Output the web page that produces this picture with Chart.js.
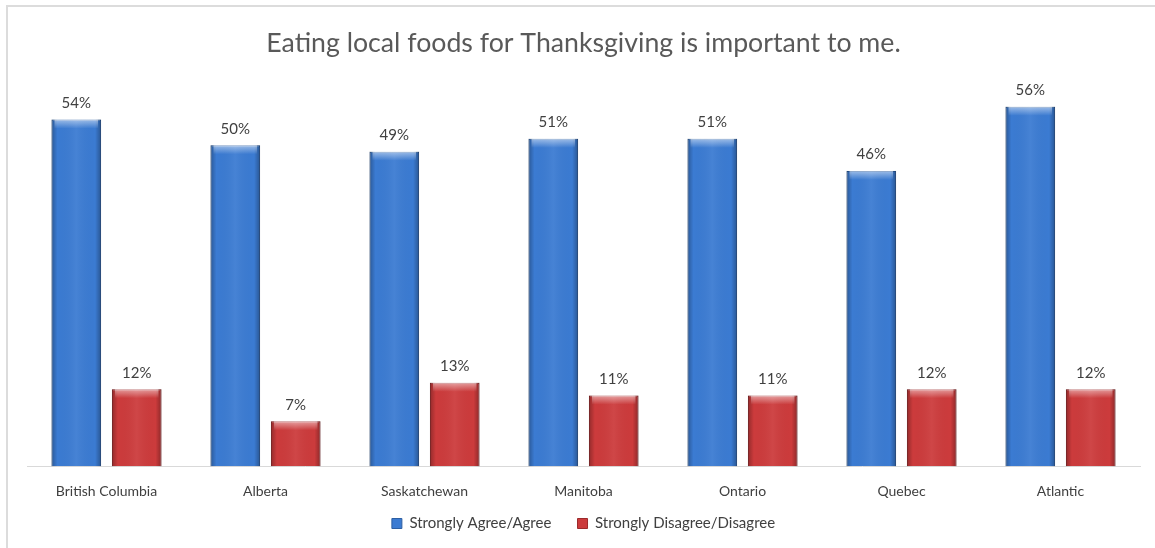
<!DOCTYPE html>
<html>
<head>
<meta charset="utf-8">
<script src="https://cdn.jsdelivr.net/npm/chart.js@4"></script>
<style>
  html, body { margin: 0; padding: 0; background: #ffffff; }
  #wrap { position: relative; width: 1155px; height: 548px; }
  #frame { position: absolute; left: 6px; top: 5px; width: 1200px; height: 600px;
           border-left: 2px solid #dcdcdc; border-top: 2px solid #dcdcdc; }
  canvas { position: absolute; left: 0; top: 0; }
</style>
</head>
<body>
<div id="wrap">
  <div id="frame"></div>
  <canvas id="chart" width="1155" height="548"></canvas>
</div>
<script>
// data
const regions = ["British Columbia", "Alberta", "Saskatchewan", "Manitoba", "Ontario", "Quebec", "Atlantic"];
const agree = [54, 50, 49, 51, 51, 46, 56];
const disagree = [12, 7, 13, 11, 11, 12, 12];
const seriesNames = ["Strongly Agree/Agree", "Strongly Disagree/Disagree"];

// shading on top of each bar (dark sides, light top edge)
const bevelPlugin = {
  id: "bevel",
  afterDatasetsDraw(chart) {
    const ctx = chart.ctx;
    chart.data.datasets.forEach((ds, i) => {
      const meta = chart.getDatasetMeta(i);
      meta.data.forEach((bar) => {
        const left = bar.x - bar.width / 2;
        const top = bar.y;
        const h = bar.base - bar.y;
        const w = bar.width;
        ctx.save();
        const g = ctx.createLinearGradient(left, 0, left + w, 0);
        g.addColorStop(0, "rgba(0,0,0,0.28)");
        g.addColorStop(0.12, "rgba(0,0,0,0.0)");
        g.addColorStop(0.5, "rgba(255,255,255,0.06)");
        g.addColorStop(0.88, "rgba(0,0,0,0.0)");
        g.addColorStop(1, "rgba(0,0,0,0.3)");
        ctx.fillStyle = g;
        ctx.fillRect(left, top, w, h);
        // top highlight
        const t = ctx.createLinearGradient(0, top, 0, top + 9);
        t.addColorStop(0, "rgba(255,255,255,0.5)");
        t.addColorStop(1, "rgba(255,255,255,0)");
        ctx.fillStyle = t;
        ctx.fillRect(left + 3, top, w - 6, 9);
        ctx.restore();
      });
    });
  },
};

// value labels above bars
const labelPlugin = {
  id: "valueLabels",
  afterDatasetsDraw(chart) {
    const ctx = chart.ctx;
    ctx.save();
    ctx.font = "15px Lato";
    ctx.fillStyle = "#404040";
    ctx.textAlign = "center";
    ctx.textBaseline = "bottom";
    chart.data.datasets.forEach((ds, i) => {
      chart.getDatasetMeta(i).data.forEach((bar, j) => {
        ctx.fillText(ds.data[j] + "%", bar.x, bar.y - 9);
      });
    });
    ctx.restore();
  },
};

new Chart(document.getElementById("chart"), {
  type: "bar",
  data: {
    labels: regions,
    datasets: [
      {
        label: seriesNames[0],
        data: agree,
        backgroundColor: "#3b7bd2",
        borderColor: "#2d5fa3",
        borderWidth: 1,
        barPercentage: 0.82,
        categoryPercentage: 0.76,
      },
      {
        label: seriesNames[1],
        data: disagree,
        backgroundColor: "#cc3b3c",
        borderColor: "#9c2a2b",
        borderWidth: 1,
        barPercentage: 0.82,
        categoryPercentage: 0.76,
      },
    ],
  },
  options: {
    responsive: false,
    animation: false,
    layout: { padding: { left: 27, right: 15, bottom: 7 } },
    scales: {
      x: {
        grid: { display: false },
        border: { color: "#d9d9d9", width: 1 },
        ticks: { color: "#404040", font: { family: "Lato", size: 14 }, padding: 9 },
      },
      y: {
        display: false,
        min: 0,
        max: 60,
      },
    },
    plugins: {
      title: {
        display: true,
        text: "Eating local foods for Thanksgiving is important to me.",
        color: "#595959",
        font: { family: "Lato", size: 26.7, weight: "normal" },
        padding: { top: 27, bottom: 22 },
      },
      legend: {
        position: "bottom",
        labels: {
          color: "#404040",
          font: { family: "Lato", size: 15 },
          usePointStyle: true,
          pointStyle: "rect",
          boxWidth: 10,
          boxHeight: 10,
          padding: 7,
          // wider gap after the first item, like the original
          generateLabels(chart) {
            const items = Chart.defaults.plugins.legend.labels.generateLabels(chart);
            items[0].text = items[0].text + "     ";
            return items;
          },
        },
      },
      tooltip: { enabled: false },
    },
  },
  plugins: [bevelPlugin, labelPlugin],
});
</script>
</body>
</html>
